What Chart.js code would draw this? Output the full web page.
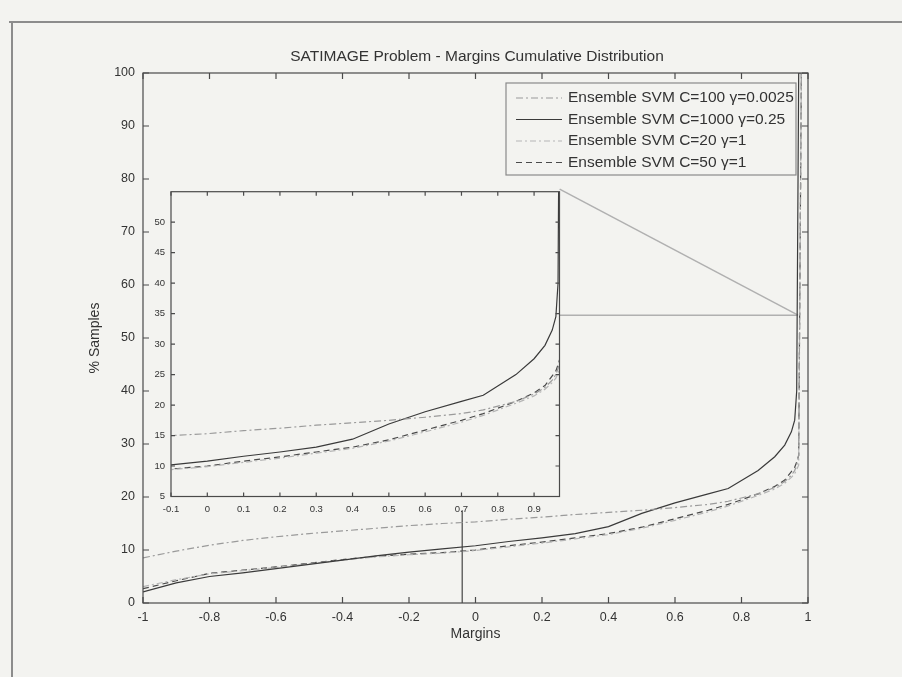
<!DOCTYPE html>
<html>
<head>
<meta charset="utf-8">
<script src="https://cdn.jsdelivr.net/npm/chart.js@4.4.1/dist/chart.umd.min.js"></script>
<style>
  html, body { margin: 0; padding: 0; background: #f3f3f0; }
  #wrap { position: relative; width: 902px; height: 677px; overflow: hidden; }
  #main { position: absolute; left: 0; top: 0; }
  #inset { position: absolute; left: 130px; top: 180px; }
</style>
</head>
<body>
<div id="wrap">
  <canvas id="main" width="902" height="677"></canvas>
  <canvas id="inset" width="440" height="345"></canvas>
</div>
<script>
// margin values shared by all four curves
const margins = [-1, -0.9, -0.8, -0.7, -0.6, -0.5, -0.4, -0.3, -0.2, -0.1, 0, 0.1, 0.2, 0.3, 0.4, 0.5, 0.6, 0.7, 0.76, 0.85, 0.9, 0.93, 0.95, 0.96, 0.966, 0.972, 0.98, 1];

// % of samples with margin <= x
const svmC100 = [8.5, 9.8, 10.9, 11.8, 12.5, 13.1, 13.6, 14.1, 14.6, 15.0, 15.3, 15.8, 16.2, 16.7, 17.1, 17.5, 18.0, 18.6, 19.2, 20.6, 21.8, 22.9, 24.1, 25.0, 26.0, 28.0, 100, 100];
const svmC1000 = [2.1, 3.8, 5.0, 5.7, 6.5, 7.3, 8.1, 8.9, 9.6, 10.2, 10.8, 11.6, 12.3, 13.1, 14.4, 16.9, 18.9, 20.6, 21.6, 25.0, 27.6, 29.8, 32.3, 34.5, 40.0, 100, 100, 100];
const svmC20 = [3.1, 4.4, 5.5, 6.1, 6.7, 7.4, 8.1, 8.7, 9.1, 9.4, 9.9, 10.6, 11.3, 12.1, 12.9, 14.1, 15.6, 17.2, 18.3, 20.3, 21.5, 22.6, 23.7, 24.4, 25.2, 26.0, 100, 100];
const svmC50 = [2.7, 4.2, 5.6, 6.2, 6.8, 7.5, 8.2, 8.8, 9.2, 9.5, 10.0, 10.8, 11.5, 12.3, 13.1, 14.3, 15.9, 17.5, 18.6, 20.6, 22.0, 23.2, 24.8, 25.6, 26.6, 27.8, 100, 100];

const seriesNames = [
  "Ensemble SVM C=100 \u03b3=0.0025",
  "Ensemble SVM C=1000 \u03b3=0.25",
  "Ensemble SVM C=20 \u03b3=1",
  "Ensemble SVM C=50 \u03b3=1"
];

const xTicks = [-1, -0.8, -0.6, -0.4, -0.2, 0, 0.2, 0.4, 0.6, 0.8, 1];
const yTicks = [0, 10, 20, 30, 40, 50, 60, 70, 80, 90, 100];
const insetXTicks = [-0.1, 0, 0.1, 0.2, 0.3, 0.4, 0.5, 0.6, 0.7, 0.8, 0.9];
const insetYTicks = [5, 10, 15, 20, 25, 30, 35, 40, 45, 50];

// zoom box edge and the two links to the inset (main axis units)
const zoomEdgeX = [-0.04, -0.04];
const zoomEdgeY = [0, 17.5];
const linkX = [0.253, 0.97];
const linkTopY = [78.1, 54.3];
const linkSideY = [54.3, 54.3];

const BG = "#f3f3f0";
const INK = "#333";
const FONT = "'Liberation Sans', Arial, sans-serif";

const curveStyles = [
  { color: "#9a9a9a", dash: [7, 3, 2, 3] },
  { color: "#3a3a3a", dash: [] },
  { color: "#b5b5b5", dash: [6, 3, 2, 3] },
  { color: "#4a4a4a", dash: [6, 4] }
];
const curveData = [svmC100, svmC1000, svmC20, svmC50];

function pts(xs, ys) {
  return xs.map((x, i) => ({ x: x, y: ys[i] }));
}

function curveSets() {
  return curveData.map((ys, i) => ({
    label: seriesNames[i],
    data: pts(margins, ys),
    borderColor: curveStyles[i].color,
    borderDash: curveStyles[i].dash,
    borderWidth: 1.2,
    pointRadius: 0,
    fill: false,
    tension: 0
  }));
}

function guideSet(xs, ys, color, width) {
  return { data: pts(xs, ys), borderColor: color, borderWidth: width, pointRadius: 0, fill: false };
}

function fmt(v) {
  return String(Number(v.toFixed(2)));
}

// inward ticks on all four sides plus the axes box
function drawBox(chart, len, color) {
  const ctx = chart.ctx;
  const a = chart.chartArea;
  const sx = chart.scales.x, sy = chart.scales.y;
  ctx.save();
  ctx.strokeStyle = color;
  ctx.lineWidth = 1.2;
  ctx.beginPath();
  sx.ticks.forEach(t => {
    const p = sx.getPixelForValue(t.value);
    ctx.moveTo(p, a.bottom); ctx.lineTo(p, a.bottom - len);
    ctx.moveTo(p, a.top); ctx.lineTo(p, a.top + len);
  });
  sy.ticks.forEach(t => {
    const p = sy.getPixelForValue(t.value);
    ctx.moveTo(a.left, p); ctx.lineTo(a.left + len, p);
    ctx.moveTo(a.right, p); ctx.lineTo(a.right - len, p);
  });
  ctx.stroke();
  ctx.strokeRect(a.left, a.top, a.right - a.left, a.bottom - a.top);
  ctx.restore();
}

const mainDecor = {
  id: "mainDecor",
  beforeDraw(chart) {
    const ctx = chart.ctx;
    ctx.save();
    ctx.fillStyle = BG;
    ctx.fillRect(0, 0, chart.width, chart.height);
    // figure frame
    ctx.strokeStyle = "#8c8c8c";
    ctx.lineWidth = 2;
    ctx.beginPath();
    ctx.moveTo(9, 22); ctx.lineTo(chart.width, 22);
    ctx.moveTo(12, 22); ctx.lineTo(12, chart.height);
    ctx.stroke();
    ctx.restore();
  },
  afterDatasetsDraw(chart) {
    drawBox(chart, 6, "#4a4a4a");
  },
  afterDraw(chart) {
    const ctx = chart.ctx;
    const a = chart.chartArea;
    ctx.save();
    ctx.fillStyle = INK;
    ctx.textAlign = "center";
    ctx.textBaseline = "middle";
    ctx.font = "15.5px " + FONT;
    ctx.fillText("SATIMAGE Problem - Margins Cumulative Distribution", 477, 57);
    ctx.font = "14px " + FONT;
    ctx.fillText("Margins", (a.left + a.right) / 2, 634);
    ctx.translate(95, (a.top + a.bottom) / 2);
    ctx.rotate(-Math.PI / 2);
    ctx.fillText("% Samples", 0, 0);
    ctx.restore();

    // legend
    ctx.save();
    ctx.fillStyle = BG;
    ctx.fillRect(506, 83, 290, 92);
    ctx.strokeStyle = "#8a8a8a";
    ctx.lineWidth = 1.2;
    ctx.strokeRect(506, 83, 290, 92);
    ctx.font = "15.5px " + FONT;
    ctx.textAlign = "left";
    ctx.textBaseline = "middle";
    seriesNames.forEach((name, i) => {
      const y = 98 + i * 21.5;
      ctx.strokeStyle = curveStyles[i].color;
      ctx.setLineDash(curveStyles[i].dash);
      ctx.lineWidth = 1.2;
      ctx.beginPath();
      ctx.moveTo(516, y); ctx.lineTo(562, y);
      ctx.stroke();
      ctx.setLineDash([]);
      ctx.fillStyle = INK;
      ctx.fillText(name, 568, y);
    });
    ctx.restore();
  }
};

const insetDecor = {
  id: "insetDecor",
  beforeDatasetsDraw(chart) {
    const a = chart.chartArea;
    chart.ctx.save();
    chart.ctx.fillStyle = BG;
    chart.ctx.fillRect(a.left, a.top, a.right - a.left, a.bottom - a.top);
    chart.ctx.restore();
  },
  afterDatasetsDraw(chart) {
    drawBox(chart, 4, "#4a4a4a");
  }
};

function axis(min, max, ticks, pad, size, fontSize, isX) {
  return {
    type: "linear",
    min: min,
    max: max,
    afterBuildTicks: s => { s.ticks = ticks.map(v => ({ value: v })); },
    afterFit: s => { if (isX) { s.height = size; } else { s.width = size; } },
    grid: { display: false, drawTicks: false },
    border: { display: false },
    ticks: {
      padding: pad,
      autoSkip: false,
      maxRotation: 0,
      color: INK,
      font: { family: FONT, size: fontSize },
      callback: v => fmt(v)
    }
  };
}

new Chart(document.getElementById("main"), {
  type: "line",
  data: {
    datasets: curveSets().concat([
      guideSet(zoomEdgeX, zoomEdgeY, "#444", 1.2),
      guideSet(linkX, linkTopY, "#b0b0b0", 1.5),
      guideSet(linkX, linkSideY, "#b0b0b0", 1.5)
    ])
  },
  options: {
    responsive: false,
    animation: false,
    layout: { padding: { left: 103, right: 94, top: 73, bottom: 44 } },
    plugins: { legend: { display: false }, title: { display: false }, tooltip: { enabled: false } },
    scales: {
      x: axis(-1, 1, xTicks, 7, 30, 12.5, true),
      y: axis(0, 100, yTicks, 8, 40, 12.5, false)
    }
  },
  plugins: [mainDecor]
});

new Chart(document.getElementById("inset"), {
  type: "line",
  data: { datasets: curveSets() },
  options: {
    responsive: false,
    animation: false,
    layout: { padding: { left: 17, right: 10.5, top: 9, bottom: 8.5 } },
    plugins: { legend: { display: false }, title: { display: false }, tooltip: { enabled: false } },
    scales: {
      x: axis(-0.1, 0.97, insetXTicks, 7, 20, 9.5, true),
      y: axis(5, 55, insetYTicks, 6, 24, 9.5, false)
    }
  },
  plugins: [insetDecor]
});
</script>
</body>
</html>
